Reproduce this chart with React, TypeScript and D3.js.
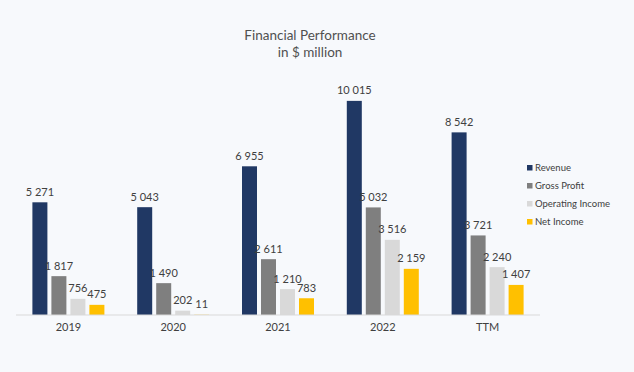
import React from 'react';
import * as d3 from 'd3';

const categories = ['2019', '2020', '2021', '2022', 'TTM'];
const seriesNames = ['Revenue', 'Gross Profit', 'Operating Income', 'Net Income'];
const revenue = [5271, 5043, 6955, 10015, 8542];
const grossProfit = [1817, 1490, 2611, 5032, 3721];
const operatingIncome = [756, 202, 1210, 3516, 2240];
const netIncome = [475, 11, 783, 2159, 1407];
const colors = ['#203864', '#7f7f7f', '#d9d9d9', '#ffc000'];

const W = 634;
const H = 372;
const margin = { top: 95, right: 94, bottom: 57, left: 16 };
const FONT = 'Lato, "Open Sans", sans-serif';

const fmt = (v: number) => d3.format(',')(v).replace(/,/g, ' ');

export default function App() {
  const series = [revenue, grossProfit, operatingIncome, netIncome];
  const innerW = W - margin.left - margin.right;
  const innerH = H - margin.top - margin.bottom;

  const x = d3.scaleBand().domain(categories).range([0, innerW]).padding(0);
  const y = d3.scaleLinear().domain([0, 10290]).range([innerH, 0]);

  const barW = 15;
  const gap = 4;
  const groupW = seriesNames.length * barW + (seriesNames.length - 1) * gap;

  return (
    <div style={{ position: 'fixed', left: 0, top: 0, width: W, height: H }}>
      <svg width={W} height={H} style={{ display: 'block', fontFamily: FONT }}>
        <rect width={W} height={H} fill="#f7f9fc" />
        <text x={310} y={40} textAnchor="middle" fontSize={13.5} fill="#505050">
          Financial Performance
        </text>
        <text x={310} y={57} textAnchor="middle" fontSize={13.5} fill="#505050">
          in $ million
        </text>
        <g transform={`translate(${margin.left},${margin.top})`}>
          {categories.map((c, i) => {
            const gx = (x(c) ?? 0) + x.bandwidth() / 2 - groupW / 2;
            return (
              <g key={c}>
                {series.map((s, j) => {
                  const bx = gx + j * (barW + gap);
                  const by = y(s[i]);
                  return (
                    <g key={j}>
                      <rect x={bx} y={by} width={barW} height={innerH - by} fill={colors[j]} />
                      <text
                        x={bx + barW / 2}
                        y={by - 6.5}
                        textAnchor="middle"
                        fontSize={11}
                        fill="#404040"
                      >
                        {fmt(s[i])}
                      </text>
                    </g>
                  );
                })}
                <text
                  x={(x(c) ?? 0) + x.bandwidth() / 2}
                  y={innerH + 16}
                  textAnchor="middle"
                  fontSize={11}
                  fill="#404040"
                >
                  {c}
                </text>
              </g>
            );
          })}
          <line x1={0} x2={innerW} y1={innerH} y2={innerH} stroke="#d9d9d9" strokeWidth={1} />
        </g>
        <g transform="translate(527,168)">
          {seriesNames.map((n, j) => (
            <g key={n} transform={`translate(0,${j * 18})`}>
              <rect x={0} y={-3} width={5.5} height={5.5} fill={colors[j]} />
              <text x={8} y={0} dy="0.35em" fontSize={9.5} fill="#404040">
                {n}
              </text>
            </g>
          ))}
        </g>
      </svg>
    </div>
  );
}
